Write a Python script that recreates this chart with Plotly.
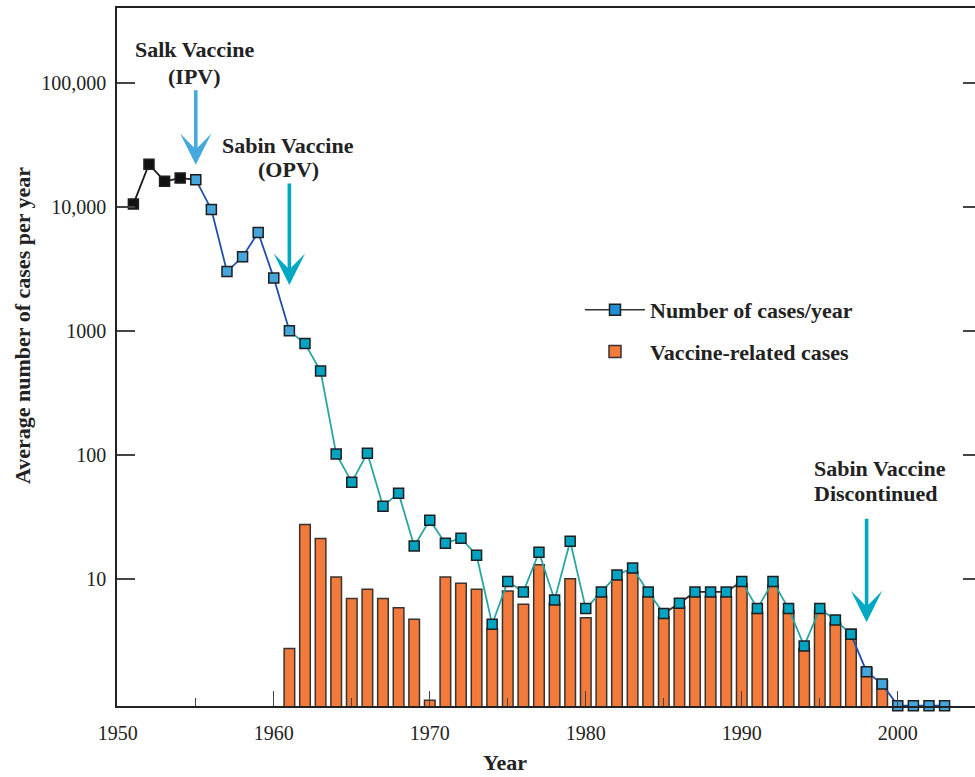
import plotly.graph_objects as go

# ---------------- data ----------------
years = list(range(1951, 2004))
cases = [10500, 22000, 16000, 17000, 16500, 9500, 3000, 3950, 6200, 2660,
         1000, 790, 475, 102, 60.5, 103.5, 38.7, 49.3, 18.5, 29.9,
         19.5, 21.4, 15.6, 4.34, 9.6, 7.9, 16.5, 6.8, 20.2, 5.8,
         7.9, 10.8, 12.3, 7.9, 5.3, 6.4, 7.9, 7.9, 7.9, 9.6,
         5.8, 9.6, 5.8, 2.9, 5.8, 4.7, 3.6, 1.8, 1.43, 0,
         0, 0, 0]

vac_years = list(range(1961, 2000))
vac_cases = [2.77, 27.6, 21.3, 10.4, 7.0, 8.3, 7.0, 5.9, 4.76, 1.06,
             10.4, 9.3, 8.3, 3.98, 8.05, 6.3, 13.1, 6.4, 10.1, 4.9,
             7.3, 10.0, 11.5, 7.3, 4.97, 6.0, 7.3, 7.3, 7.3, 9.2,
             5.4, 8.95, 5.6, 2.77, 5.6, 4.45, 3.95, 1.95, 1.53]

y_tickvals = [10, 100, 1000, 10000, 100000]
y_ticktext = ["10", "100", "1000", "10,000", "100,000"]
x_tickvals = [1950, 1960, 1970, 1980, 1990, 2000]

# line segments: (start year, end year, colour)
segments = [(1951, 1955, "#1a1a1a"), (1955, 1961, "#1f4fa6"),
            (1961, 1985, "#2aa6a2"), (1985, 1990, "#2b2b2b"),
            (1990, 1997, "#2aa6a2"), (1997, 2003, "#1f4fa6")]
# marker colour groups: (start year, end year, colour)
marker_groups = [(1951, 1954, "#111111"), (1955, 1961, "#45a6dd"),
                 (1962, 1997, "#00a3c2"), (1998, 2003, "#45a6dd")]

# ---------------- layout helpers ----------------
W_FIG, H_FIG = 975, 777
L, R, T, B = 117, 0, 8, 71
PW, PH = W_FIG - L - R, H_FIG - T - B
Y_MIN, Y_MAX = -0.021, 5.6
X_MIN = 1949.95
X_MAX = X_MIN + PW / 15.6
FONT = "Liberation Serif"


def px(xp):
    return (xp - L) / PW


def py(yp):
    return (T + PH - yp) / PH


# zero counts are drawn on the baseline of the log axis
y_floor = 10 ** (Y_MIN + 0.003)
plot_cases = [c if c > 0 else y_floor for c in cases]

fig = go.Figure()

fig.add_trace(go.Bar(
    x=vac_years, y=vac_cases, width=0.68,
    marker=dict(color="#f27a3a", line=dict(color="#3a3330", width=1.5)),
    name="<b>Vaccine-related cases</b>", legendgroup="b", legendrank=2,
    showlegend=True,
))

for y0, y1, col in segments:
    idx = [i for i, yr in enumerate(years) if y0 <= yr <= y1]
    fig.add_trace(go.Scatter(
        x=[years[i] for i in idx], y=[plot_cases[i] for i in idx],
        mode="lines", line=dict(color=col, width=1.8),
        showlegend=False, cliponaxis=False, hoverinfo="skip"))

mcolors = []
for yr in years:
    for g0, g1, col in marker_groups:
        if g0 <= yr <= g1:
            mcolors.append(col)
fig.add_trace(go.Scatter(
    x=years, y=plot_cases, mode="markers",
    marker=dict(symbol="square", size=10, color=mcolors,
                line=dict(color="#1e1e1e", width=1.5)),
    showlegend=False, cliponaxis=False))

# legend entry for the case counts
fig.add_trace(go.Scatter(
    x=[None], y=[None], mode="lines+markers",
    line=dict(color="#333333", width=1.5),
    marker=dict(symbol="square", size=11, color="#1d8fd4",
                line=dict(color="#1e1e1e", width=1.5)),
    name="<b>Number of cases/year</b>", legendgroup="a", legendrank=1))

# invisible trace to hold the right-hand tick axis
fig.add_trace(go.Scatter(x=[None], y=[None], yaxis="y2", showlegend=False,
                         hoverinfo="skip"))

axis_font = dict(family=FONT, size=20, color="#222222")

fig.update_layout(
    width=W_FIG, height=H_FIG,
    margin=dict(l=L, r=R, t=T, b=B),
    paper_bgcolor="white", plot_bgcolor="white",
    bargap=0.3, showlegend=True,
    xaxis=dict(range=[X_MIN, X_MAX], tickvals=x_tickvals,
               ticks="inside", ticklen=15, tickwidth=1.2, tickcolor="#444",
               minor=dict(dtick=5, tick0=1950, ticks="inside", ticklen=8,
                          tickwidth=1.2, tickcolor="#444"),
               showline=True, linecolor="#222", linewidth=1.6, mirror=True,
               showgrid=False, zeroline=False, tickfont=axis_font,
               ticklabelstandoff=8),
    yaxis=dict(type="log", range=[Y_MIN, Y_MAX], tickvals=y_tickvals,
               ticktext=y_ticktext, ticks="inside", ticklen=18,
               tickwidth=1.6, tickcolor="#444", showline=True,
               linecolor="#222", linewidth=1.6, mirror=False,
               showgrid=False, zeroline=False, tickfont=axis_font,
               ticklabelstandoff=5),
    yaxis2=dict(type="log", range=[Y_MIN, Y_MAX], tickvals=y_tickvals,
                overlaying="y", side="right", ticks="inside", ticklen=12,
                tickwidth=1.6, tickcolor="#444", showline=False,
                showticklabels=False, showgrid=False, zeroline=False),
    legend=dict(x=px(580), y=py(289), xanchor="left", yanchor="top",
                font=dict(family=FONT, size=22, color="#222"),
                bgcolor="rgba(0,0,0,0)", traceorder="grouped",
                tracegroupgap=10, itemwidth=60),
)

bold = dict(family=FONT, size=22, color="#222222")
texts = [
    ("<b>Salk Vaccine</b>", 194, 50, "center"),
    ("<b>(IPV)</b>", 194, 76, "center"),
    ("<b>Sabin Vaccine</b>", 288, 145, "center"),
    ("<b>(OPV)</b>", 288, 169, "center"),
    ("<b>Sabin Vaccine</b>", 812, 468, "left"),
    ("<b>Discontinued</b>", 812, 494, "left"),
]
for t, xp_, yp_, anc in texts:
    fig.add_annotation(text=t, xref="paper", yref="paper", x=px(xp_), y=py(yp_),
                       xanchor=anc, yanchor="middle", showarrow=False, font=bold)

# arrows (tip in data coordinates; log axis -> log10 value)
arrows = [(1955, 4.337, -76, "#47a8de"),
          (1961, 3.370, -103, "#00a8c4"),
          (1998, 0.654, -105, "#00a8c4")]
for xa, ya, ay, col in arrows:
    fig.add_annotation(x=xa, y=ya, xref="x", yref="y", ax=0, ay=ay, text="",
                       showarrow=True, arrowhead=3, arrowsize=1.45,
                       arrowwidth=3.6, arrowcolor=col, standoff=0)

fig.add_annotation(text="<b>Average number of cases per year</b>", xref="paper",
                   yref="paper", x=px(22), y=py(326), textangle=-90,
                   xanchor="center", yanchor="middle", showarrow=False, font=bold)
fig.add_annotation(text="<b>Year</b>", xref="paper", yref="paper",
                   x=px(505), y=py(762), xanchor="center", yanchor="middle",
                   showarrow=False, font=bold)

fig.write_html("out.html")
